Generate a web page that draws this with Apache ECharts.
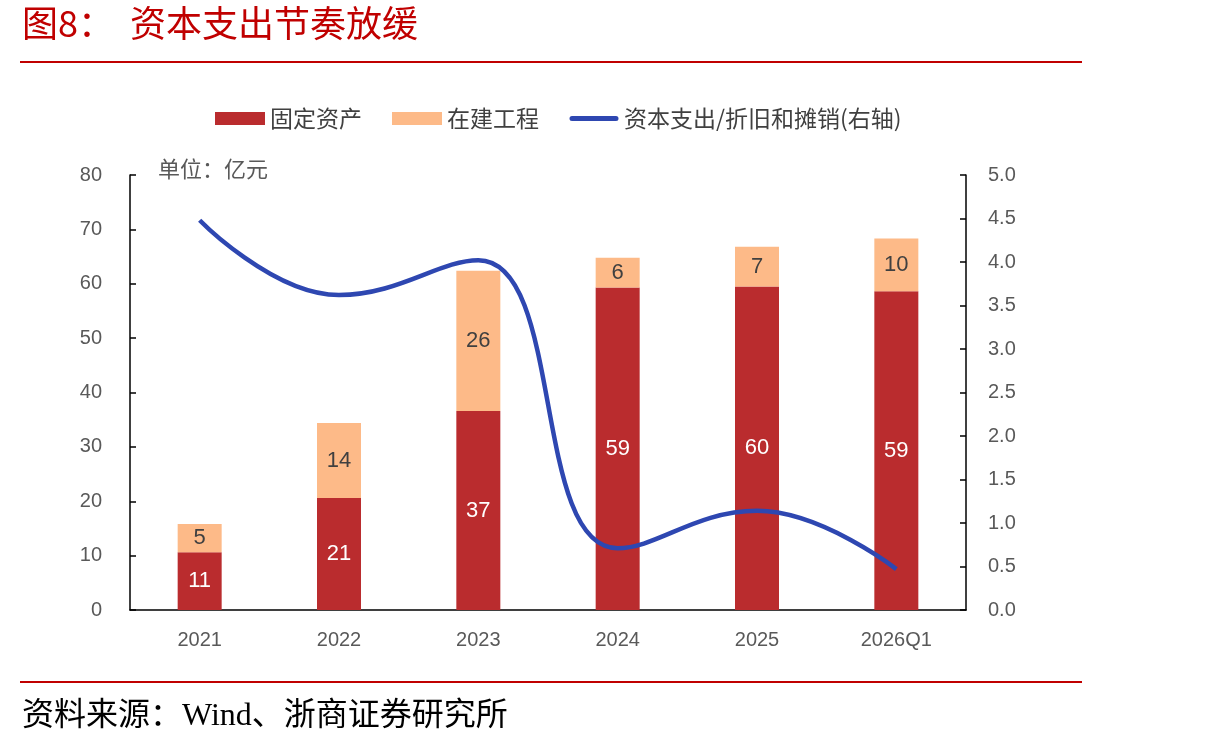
<!DOCTYPE html>
<html>
<head>
<meta charset="utf-8">
<script src="https://cdn.jsdelivr.net/npm/echarts@6/dist/echarts.min.js"></script>
<style>
  html, body { margin: 0; padding: 0; background: #fff; }
  #main { width: 1210px; height: 750px; }
</style>
</head>
<body>
<div id="main"></div>
<script>
// 数据
var years = ['2021', '2022', '2023', '2024', '2025', '2026Q1'];
var fixedAssets = [10.6, 20.6, 36.6, 59.3, 59.5, 58.6];
var construction = [5.2, 13.8, 25.8, 5.5, 7.3, 9.7];
var capexRatio = [4.48, 3.62, 4.02, 0.71, 1.14, 0.47];
var leftTicks = [0, 80, 10];
var rightTicks = [0, 5, 0.5];

var cjk = '"Noto Sans CJK SC", sans-serif';
var num = 'Arial, "Liberation Sans", sans-serif';

var myChart = echarts.init(document.getElementById('main'), null, { renderer: 'canvas' });

var option = {
    backgroundColor: '#fff',
    animation: false,
    grid: {
        left: 130,
        right: 244,
        top: 175,
        bottom: 140
    },
    legend: {
        top: 102,
        left: 210,
        itemWidth: 50,
        itemHeight: 13,
        itemGap: 30,
        textStyle: { fontFamily: cjk, fontSize: 23, color: '#404040' },
        data: [
            { name: '固定资产', icon: 'rect' },
            { name: '在建工程', icon: 'rect' },
            {
                name: '资本支出/折旧和摊销(右轴)',
                // 细圆角线图标，外框撑满 50x13
                icon: 'path://M0,0 L0.01,0 M50,13 L49.99,13 M3,4 L47,4 A2.5,2.5 0 0 1 47,9 L3,9 A2.5,2.5 0 0 1 3,4 Z'
            }
        ]
    },
    xAxis: {
        type: 'category',
        data: years,
        axisLine: { lineStyle: { color: '#000', width: 1.5 } },
        axisTick: { show: false },
        axisLabel: { fontFamily: num, fontSize: 20, color: '#595959', margin: 20 }
    },
    yAxis: [
        {
            type: 'value',
            min: leftTicks[0],
            max: leftTicks[1],
            interval: leftTicks[2],
            splitLine: { show: false },
            axisLine: { show: true, lineStyle: { color: '#000', width: 1.5 } },
            axisTick: { show: true, inside: true, length: 6, lineStyle: { color: '#000', width: 1.5 } },
            axisLabel: { fontFamily: num, fontSize: 20, color: '#595959', margin: 28 }
        },
        {
            type: 'value',
            min: rightTicks[0],
            max: rightTicks[1],
            interval: rightTicks[2],
            splitLine: { show: false },
            axisLine: { show: true, lineStyle: { color: '#000', width: 1.5 } },
            axisTick: { show: true, inside: true, length: 6, lineStyle: { color: '#000', width: 1.5 } },
            axisLabel: {
                fontFamily: num, fontSize: 20, color: '#595959', margin: 22,
                formatter: function (v) { return v.toFixed(1); }
            }
        }
    ],
    series: [
        {
            name: '固定资产',
            type: 'bar',
            stack: 'total',
            barWidth: 44,
            data: fixedAssets,
            itemStyle: { color: '#BA2C2E' },
            label: {
                show: true,
                position: 'inside',
                fontFamily: num,
                fontSize: 22,
                color: '#fff',
                formatter: function (p) { return Math.round(p.value); }
            }
        },
        {
            name: '在建工程',
            type: 'bar',
            stack: 'total',
            barWidth: 44,
            data: construction,
            itemStyle: { color: '#FDBA88' },
            label: {
                show: true,
                position: 'inside',
                fontFamily: num,
                fontSize: 22,
                color: '#404040',
                formatter: function (p) { return Math.round(p.value); }
            }
        },
        {
            name: '资本支出/折旧和摊销(右轴)',
            type: 'line',
            yAxisIndex: 1,
            smooth: 0.45,
            symbol: 'none',
            data: capexRatio,
            lineStyle: { color: '#2E47B1', width: 4.5 },
            itemStyle: { color: '#2E47B1' },
            z: 5
        }
    ],
    graphic: [
        {
            type: 'text', left: 22, top: 5,
            style: { text: '图8：  资本支出节奏放缓', fill: '#C00000', font: '36px ' + cjk }
        },
        {
            type: 'rect', shape: { x: 20, y: 61, width: 1062, height: 2 },
            style: { fill: '#C00000' }
        },
        {
            type: 'text', left: 158, top: 158,
            style: { text: '单位：亿元', fill: '#595959', font: '22px ' + cjk }
        },
        {
            type: 'rect', shape: { x: 20, y: 681, width: 1062, height: 2 },
            style: { fill: '#C00000' }
        },
        {
            type: 'text', left: 22, top: 701,
            style: { text: '资料来源：Wind、浙商证券研究所', fill: '#000', font: '32px "Liberation Serif", "Noto Sans CJK SC", serif' }
        }
    ]
};

myChart.setOption(option);
</script>
</body>
</html>
